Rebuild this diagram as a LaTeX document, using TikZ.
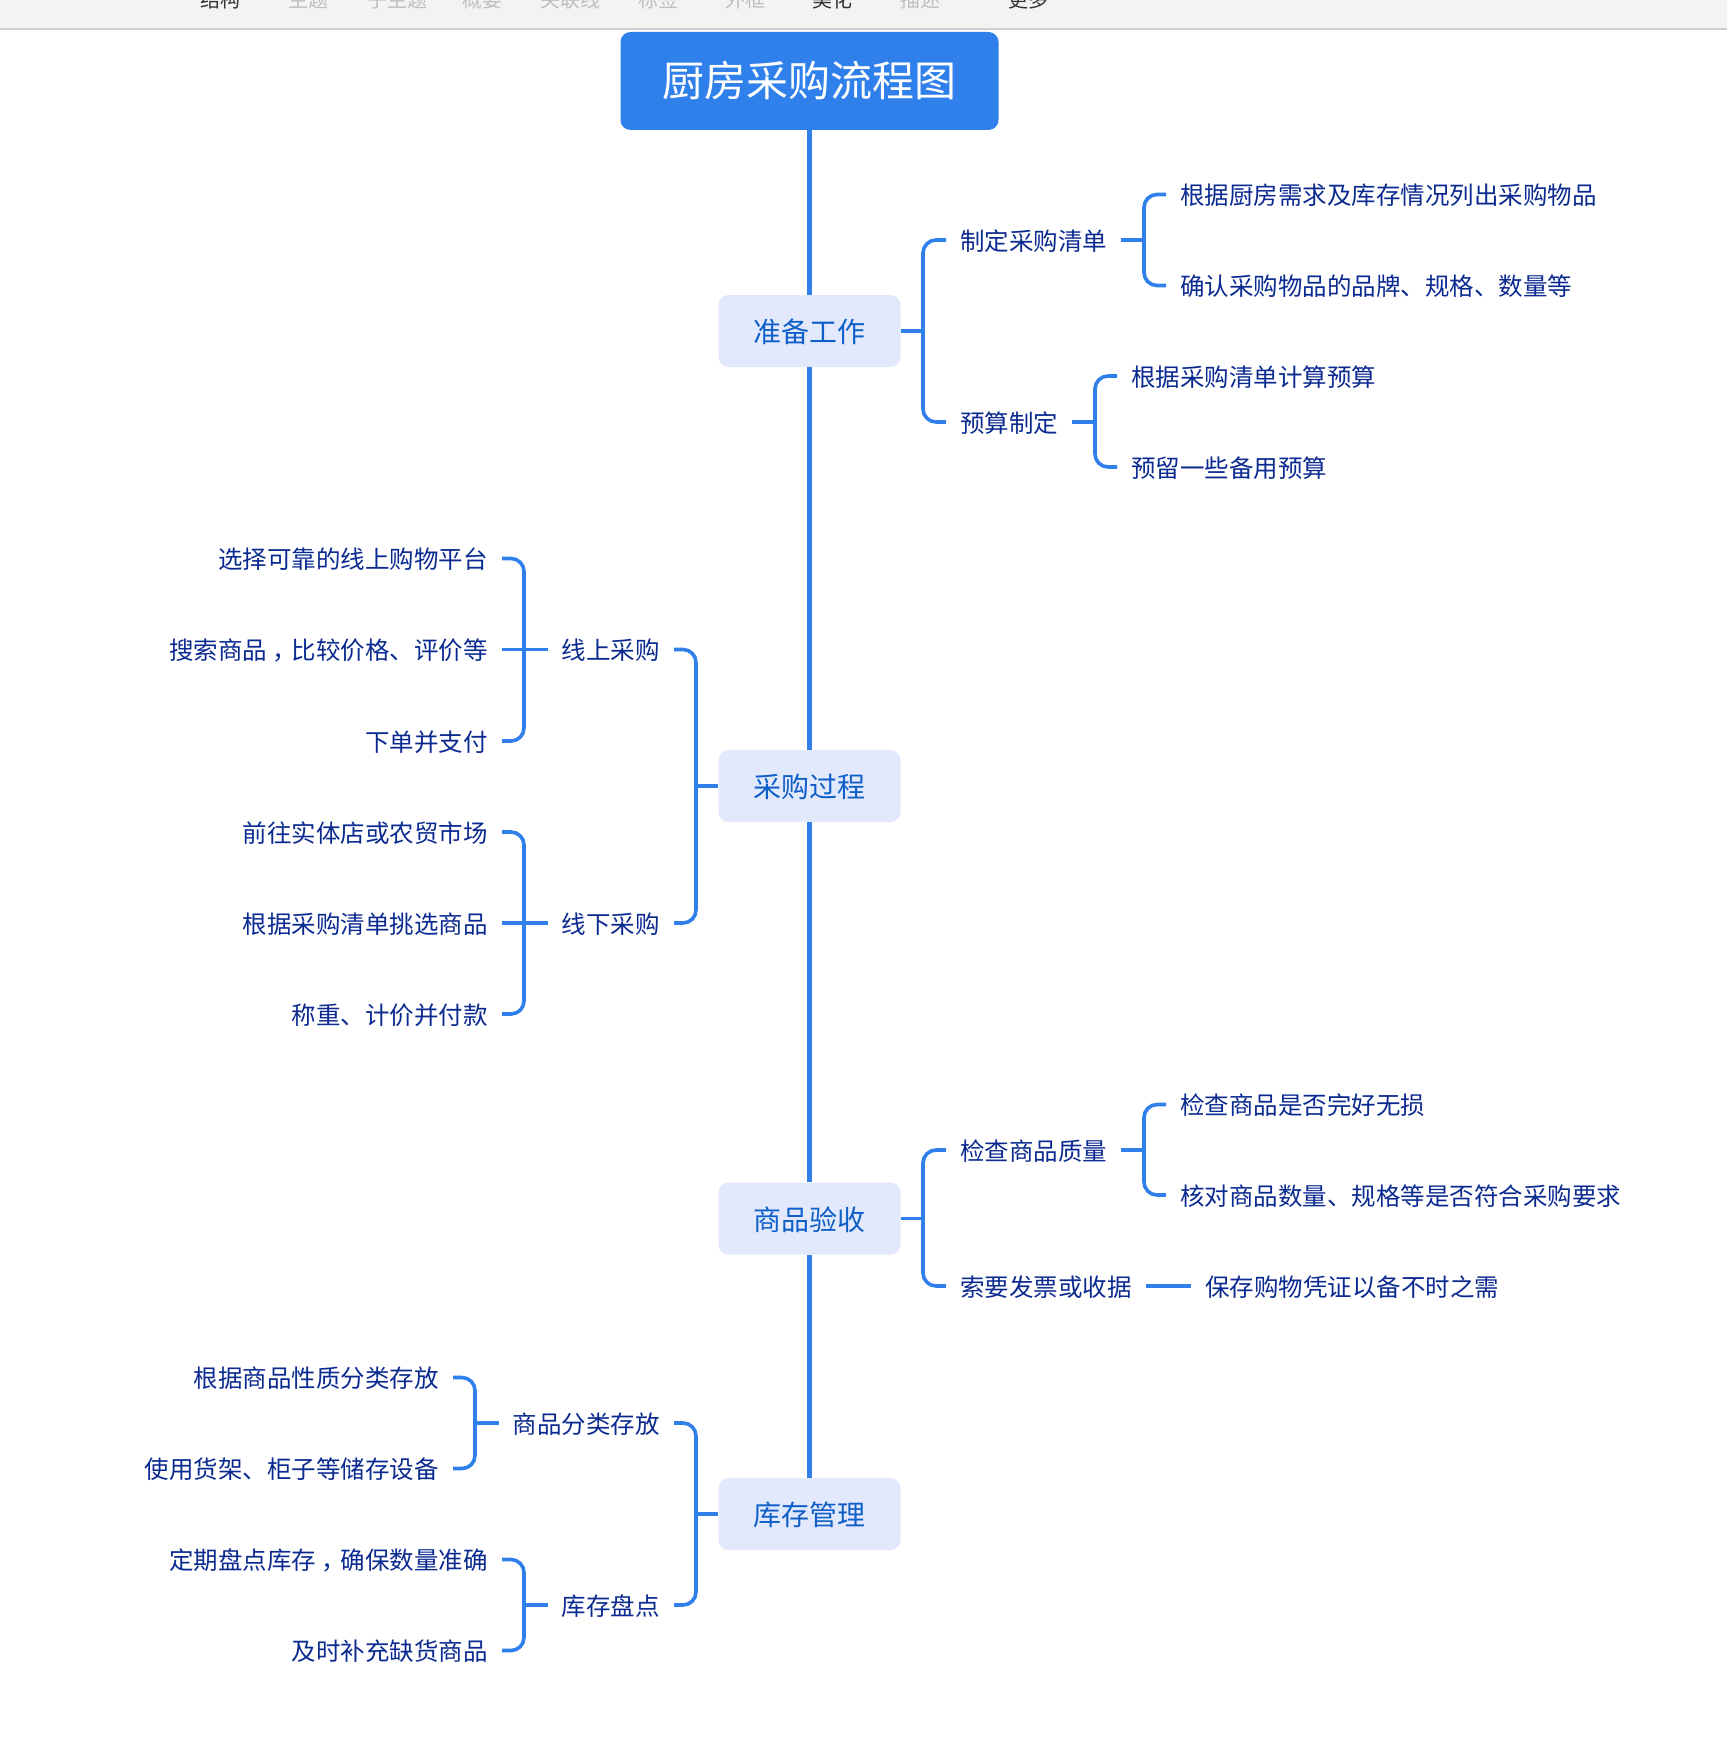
\documentclass[tikz,border=0pt]{standalone}
\usepackage{fontspec}
\setmainfont{Noto Sans CJK SC}
\usepackage{xcolor}
\definecolor{barbg}{HTML}{F3F3F3}
\definecolor{barline}{HTML}{CFCFCF}
\definecolor{mapblue}{HTML}{3080EC}
\definecolor{topicbg}{HTML}{E3E9FD}
\definecolor{topictext}{HTML}{0F5FC8}
\definecolor{leaftext}{HTML}{0B2A90}
\newcommand{\midcomma}{\makebox[1em][l]{\hspace{.2em}，}}
\begin{document}
\begin{tikzpicture}[x=1pt,
				y=-1pt,
				line join=round,
				root/.style={fill=mapblue, text=white, rounded corners=10pt, minimum width=378pt, minimum height=98pt, inner sep=0pt, font=\fontsize{42}{42}\selectfont},
				topic/.style={fill=topicbg, text=topictext, rounded corners=10pt, minimum width=182pt, minimum height=72pt, inner sep=0pt, text height=25.5pt, text depth=2.5pt, font=\fontsize{28}{28}\selectfont},
				leaf/.style={text=leaftext, inner xsep=14pt, inner ysep=0pt, text height=22.5pt, text depth=2pt, font=\fontsize{24.5}{24.5}\selectfont},
				tool/.style={inner sep=0pt, text height=17.6pt, text depth=2.4pt, font=\fontsize{20}{20}\selectfont},
				trunk/.style={draw=mapblue, line width=5pt},
				link/.style={draw=mapblue, line width=3.6pt, rounded corners=13pt}]
				\useasboundingbox (0,0) rectangle (1727,1742);
				\fill[barbg] (0,0) rectangle (1727,29);
				\draw[barline, line width=1.2pt] (0,29) -- (1727,29);
				% toolbar
				\node at (220,0) (t1) [tool, text=black!80] {结构};
				\node at (308,0) (t2) [tool, text=black!25] {主题};
				\node at (397,0) (t3) [tool, text=black!25] {子主题};
				\node at (482,0) (t4) [tool, text=black!25] {概要};
				\node at (570,0) (t5) [tool, text=black!25] {关联线};
				\node at (658,0) (t6) [tool, text=black!25] {标签};
				\node at (745,0) (t7) [tool, text=black!25] {外框};
				\node at (832,0) (t8) [tool, text=black!80] {美化};
				\node at (920,0) (t9) [tool, text=black!25] {描述};
				\node at (1028,0) (t10) [tool, text=black!80] {更多};
				% trunk
				\node at (809.5,81) (main) [root] {厨房采购流程图};
				\node at (809.5,331) (prep) [topic] {准备工作};
				\node at (809.5,786) (buy) [topic] {采购过程};
				\node at (809.5,1218.5) (check) [topic] {商品验收};
				\node at (809.5,1514) (stock) [topic] {库存管理};
				\draw[trunk] (main) -- (prep);
				\draw[trunk] (prep) -- (buy);
				\draw[trunk] (buy) -- (check);
				\draw[trunk] (check) -- (stock);
				% prep
				\node at (946,240) (plan) [leaf, anchor=west] {制定采购清单};
				\node at (946,422) (budget) [leaf, anchor=west] {预算制定};
				\node at (1166,194.5) (plana) [leaf, anchor=west] {根据厨房需求及库存情况列出采购物品};
				\node at (1166,285.5) (planb) [leaf, anchor=west] {确认采购物品的品牌、规格、数量等};
				\node at (1117,376) (budgeta) [leaf, anchor=west] {根据采购清单计算预算};
				\node at (1117,467) (budgetb) [leaf, anchor=west] {预留一些备用预算};
				\coordinate (prepj) at (923,331);
				\coordinate (planj) at (1144,240);
				\coordinate (budgetj) at (1095,422);
				\draw[link] (prep.east) -- (prepj);
				\draw[link] (plan.west) -| (prepj) |- (budget.west);
				\draw[link] (plan.east) -- (planj);
				\draw[link] (plana.west) -| (planj) |- (planb.west);
				\draw[link] (budget.east) -- (budgetj);
				\draw[link] (budgeta.west) -| (budgetj) |- (budgetb.west);
				% buy
				\node at (674,649.5) (online) [leaf, anchor=east] {线上采购};
				\node at (674,923) (offline) [leaf, anchor=east] {线下采购};
				\node at (502,558.5) (onlinea) [leaf, anchor=east] {选择可靠的线上购物平台};
				\node at (502,649.5) (onlineb) [leaf, anchor=east] {搜索商品\midcomma 比较价格、评价等};
				\node at (502,741) (onlinec) [leaf, anchor=east] {下单并支付};
				\node at (502,832) (offlinea) [leaf, anchor=east] {前往实体店或农贸市场};
				\node at (502,923) (offlineb) [leaf, anchor=east] {根据采购清单挑选商品};
				\node at (502,1014) (offlinec) [leaf, anchor=east] {称重、计价并付款};
				\coordinate (buyj) at (696,786);
				\coordinate (onlinej) at (524,649.5);
				\coordinate (offlinej) at (524,923);
				\draw[link] (buy.west) -- (buyj);
				\draw[link] (online.east) -| (buyj) |- (offline.east);
				\draw[link] (online.west) -- (onlineb.east);
				\draw[link] (onlinea.east) -| (onlinej) |- (onlinec.east);
				\draw[link] (offline.west) -- (offlineb.east);
				\draw[link] (offlinea.east) -| (offlinej) |- (offlinec.east);
				% check
				\node at (946,1150) (quality) [leaf, anchor=west] {检查商品质量};
				\node at (946,1286) (receipt) [leaf, anchor=west] {索要发票或收据};
				\node at (1166,1104.5) (qualitya) [leaf, anchor=west] {检查商品是否完好无损};
				\node at (1166,1195) (qualityb) [leaf, anchor=west] {核对商品数量、规格等是否符合采购要求};
				\node at (1191,1286) (receipta) [leaf, anchor=west] {保存购物凭证以备不时之需};
				\coordinate (checkj) at (923,1218.5);
				\coordinate (qualityj) at (1144,1150);
				\draw[link] (check.east) -- (checkj);
				\draw[link] (quality.west) -| (checkj) |- (receipt.west);
				\draw[link] (quality.east) -- (qualityj);
				\draw[link] (qualitya.west) -| (qualityj) |- (qualityb.west);
				\draw[link] (receipt.east) -- (receipta.west);
				% stock
				\node at (674,1423) (sort) [leaf, anchor=east] {商品分类存放};
				\node at (674,1605) (count) [leaf, anchor=east] {库存盘点};
				\node at (453,1377.5) (sorta) [leaf, anchor=east] {根据商品性质分类存放};
				\node at (453,1468.5) (sortb) [leaf, anchor=east] {使用货架、柜子等储存设备};
				\node at (502,1559.5) (counta) [leaf, anchor=east] {定期盘点库存\midcomma 确保数量准确};
				\node at (502,1650.5) (countb) [leaf, anchor=east] {及时补充缺货商品};
				\coordinate (stockj) at (696,1514);
				\coordinate (sortj) at (475,1423);
				\coordinate (countj) at (524,1605);
				\draw[link] (stock.west) -- (stockj);
				\draw[link] (sort.east) -| (stockj) |- (count.east);
				\draw[link] (sort.west) -- (sortj);
				\draw[link] (sorta.east) -| (sortj) |- (sortb.east);
				\draw[link] (count.west) -- (countj);
				\draw[link] (counta.east) -| (countj) |- (countb.east);
			\end{tikzpicture}
\end{document}
